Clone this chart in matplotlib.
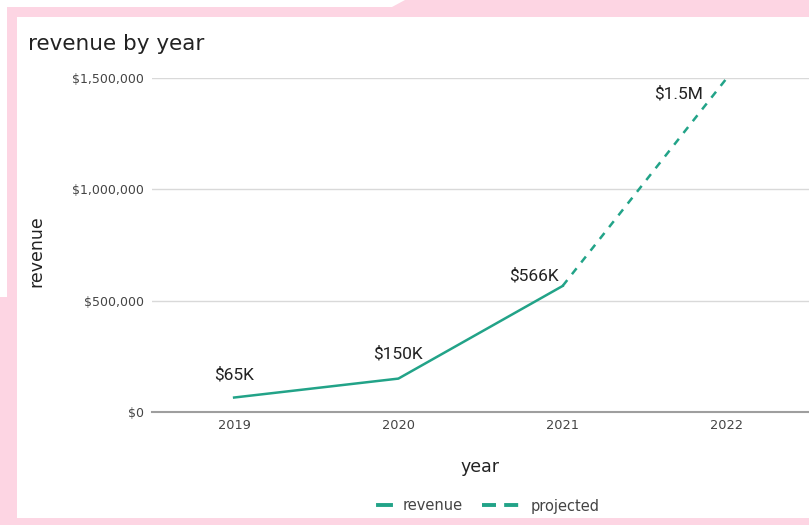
import matplotlib
matplotlib.use('Agg')
import matplotlib.pyplot as plt
from matplotlib.patches import Polygon
from matplotlib.lines import Line2D
from matplotlib.ticker import FuncFormatter

# 数据
years = ['2019', '2020', '2021', '2022']
revenue = [65000, 150000, 566000]
projected = [566000, 1500000]
labels = ['$65K', '$150K', '$566K', '$1.5M']

W, H = 809, 525
teal = '#22a388'
pink = '#fdd5e3'

fig = plt.figure(figsize=(W / 100, H / 100), dpi=100)
fig.patch.set_facecolor(pink)


def px(pts):
    # 像素坐标 -> figure 坐标
    return [(x / W, 1 - y / H) for x, y in pts]


# 白色面板和左上角的白边
fig.patches.append(Polygon(px([(17, 17), (809, 17), (809, 518), (17, 518)]),
                           closed=True, transform=fig.transFigure, facecolor='white',
                           edgecolor='none', zorder=-10))
fig.patches.append(Polygon(px([(0, 0), (405, 0), (392, 7), (7, 7), (7, 297), (0, 297)]),
                           closed=True, transform=fig.transFigure, facecolor='white',
                           edgecolor='none', zorder=-10))

ax = fig.add_axes([152 / W, 1 - 412 / H, 1 - 152 / W, (412 - 78) / H])
ax.set_facecolor('none')

x = list(range(len(years)))
ax.plot(x[:3], revenue, color=teal, lw=1.8, clip_on=False, zorder=3)
ax.plot(x[2:], projected, color=teal, lw=1.8, ls=(0, (3, 3)), clip_on=False, zorder=3)

values = revenue + projected[1:]
offsets = [(0, 11), (0, 12), (-21, 2), (-35, -17)]
for i, (v, t) in enumerate(zip(values, labels)):
    ax.annotate(t, (i, v), xytext=offsets[i], textcoords='offset points',
                ha='center', va='bottom', fontsize=12.5, family='Roboto', color='#222222')

ax.set_xlim(-0.5, 3.5)
ax.set_ylim(0, 1500000)
ax.set_xticks(x)
ax.set_xticklabels(years)
ax.set_yticks([0, 500000, 1000000, 1500000])
ax.yaxis.set_major_formatter(FuncFormatter(lambda v, p: '${:,.0f}'.format(v)))
ax.tick_params(axis='y', length=0, labelsize=9, colors='#444444', pad=6)
ax.tick_params(axis='x', length=0, labelsize=9.3, colors='#444444', pad=5)
ax.grid(axis='y', color='#d9d9d9', lw=1)
ax.set_axisbelow(True)
for s in ['top', 'right', 'left']:
    ax.spines[s].set_visible(False)
ax.spines['bottom'].set_color('#9e9e9e')
ax.spines['bottom'].set_linewidth(1.5)

fig.text(28 / W, 1 - 44 / H, 'revenue by year', fontsize=15.5, color='#222222', va='center', ha='left')
fig.text(36 / W, 1 - 251 / H, 'revenue', fontsize=12.5, color='#222222', rotation=90, va='center', ha='center')
fig.text(480 / W, 1 - 467 / H, 'year', fontsize=12.5, color='#222222', va='center', ha='center')

# 图例：两段分别画，实线短、虚线长
leg1 = fig.legend([Line2D([], [], color=teal, lw=2.8)], ['revenue'], loc='center',
                  bbox_to_anchor=(420 / W, 1 - 506 / H), frameon=False, fontsize=10.5,
                  handlelength=0.9, handletextpad=0.8, labelcolor='#444444')
leg2 = fig.legend([Line2D([], [], color=teal, lw=2.8, ls=(0, (3.6, 2.1)))], ['projected'], loc='center',
                  bbox_to_anchor=(541 / W, 1 - 506 / H), frameon=False, fontsize=10.5,
                  handlelength=2.5, handletextpad=0.8, labelcolor='#444444')

fig.savefig('out.png', dpi=100, facecolor=fig.get_facecolor())
